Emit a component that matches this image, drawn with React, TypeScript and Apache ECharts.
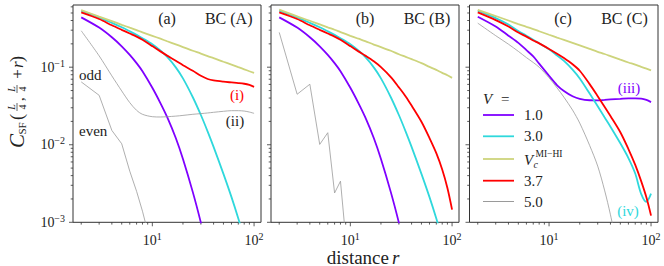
import React, { useEffect, useRef } from "react";
import * as echarts from "echarts";

// distance r sampled along the curves
const R = [2, 3, 4, 5, 6, 7, 8, 10, 12, 14, 17, 20, 25, 30, 35, 40, 50, 60, 70, 80, 90, 100];
const R_INT = [2, 3, 4, 5, 6, 7, 8, 9];

// Panel (a) BC (A)
const a_V10 = [0.439, 0.324, 0.243, 0.186, 0.144, 0.1127, 0.0887, 0.0543, 0.0345, 0.0227, 0.01222, 0.00656, 0.00245, 0.00099, 0.00042];
const a_V30 = [0.536, 0.438, 0.373, 0.327, 0.29, 0.261, 0.236, 0.197, 0.164, 0.1355, 0.0995, 0.0718, 0.041, 0.0242, 0.0148, 0.0094, 0.00421, 0.00211, 0.00112, 0.00062];
const a_Vc = [0.546, 0.45, 0.393, 0.352, 0.323, 0.301, 0.282, 0.254, 0.233, 0.216, 0.197, 0.182, 0.163, 0.15, 0.139, 0.131, 0.1175, 0.108, 0.1002, 0.094, 0.0887, 0.0843];
const a_V37 = [0.509, 0.418, 0.347, 0.303, 0.272, 0.248, 0.226, 0.187, 0.16, 0.141, 0.121, 0.106, 0.09, 0.0775, 0.0705, 0.0675, 0.065, 0.0636, 0.0625, 0.0612, 0.059, 0.0558];
const a_V50odd = [0.295, 0.14, 0.0773, 0.0494, 0.0349, 0.0278, 0.0247, 0.023, 0.0228, 0.023, 0.0234, 0.0239, 0.0247, 0.0252, 0.0257, 0.0262, 0.027, 0.0275, 0.0275, 0.0272, 0.0264, 0.0254];
const a_V50even = [0.0646, 0.0434, 0.0153, 0.0103, 0.00456, 0.00251, 0.00139, 0.00076];

// Panel (b) BC (B)
const b_V10 = [0.439, 0.324, 0.243, 0.186, 0.144, 0.1127, 0.0887, 0.0543, 0.0345, 0.0227, 0.01222, 0.00656, 0.00245, 0.00099, 0.00042];
const b_V30 = [0.536, 0.438, 0.373, 0.327, 0.29, 0.261, 0.236, 0.197, 0.164, 0.1355, 0.0995, 0.0718, 0.041, 0.0242, 0.0148, 0.0094, 0.00421, 0.00211, 0.00112, 0.00062];
const b_Vc = [0.552, 0.452, 0.397, 0.356, 0.326, 0.304, 0.284, 0.254, 0.233, 0.217, 0.196, 0.182, 0.163, 0.147, 0.136, 0.127, 0.1127, 0.101, 0.0924, 0.0845, 0.0788, 0.0728];
const b_V37 = [0.509, 0.418, 0.347, 0.303, 0.272, 0.248, 0.226, 0.187, 0.16, 0.141, 0.119, 0.1, 0.0745, 0.055, 0.042, 0.032, 0.0198, 0.0122, 0.0078, 0.0048, 0.00277, 0.00146];
const b_V50 = [0.281, 0.0448, 0.0603, 0.0101, 0.0143, 0.00239, 0.00339, 0.00063];

// Panel (c) BC (C)
const c_V10 = [0.448, 0.335, 0.255, 0.206, 0.166, 0.138, 0.111, 0.0774, 0.0585, 0.0494, 0.0422, 0.039, 0.0375, 0.0374, 0.0379, 0.0384, 0.0391, 0.0397, 0.0397, 0.0393, 0.0378, 0.0355];
const c_V30 = [0.536, 0.43, 0.355, 0.292, 0.255, 0.226, 0.203, 0.17, 0.1416, 0.1205, 0.0931, 0.0716, 0.0458, 0.0313, 0.0226, 0.0171, 0.01045, 0.00674, 0.00425, 0.00233, 0.00184, 0.00234];
const c_Vc = [0.55, 0.457, 0.4, 0.36, 0.332, 0.31, 0.291, 0.262, 0.241, 0.225, 0.206, 0.191, 0.172, 0.158, 0.148, 0.139, 0.125, 0.115, 0.108, 0.101, 0.0957, 0.0912];
const c_V37 = [0.509, 0.405, 0.335, 0.28, 0.248, 0.221, 0.203, 0.172, 0.149, 0.131, 0.109, 0.09, 0.0605, 0.0423, 0.031, 0.0235, 0.0145, 0.0088, 0.0055, 0.0034, 0.0021, 0.00122];
const c_V50 = [0.37, 0.255, 0.198, 0.16, 0.133, 0.115, 0.1, 0.073, 0.054, 0.041, 0.028, 0.019, 0.0098, 0.0053, 0.0026, 0.00125, 0.0003];

// ticks
const X_MAJOR = [10, 100];
const X_MINOR = [2, 3, 4, 5, 6, 7, 8, 9, 20, 30, 40, 50, 60, 70, 80, 90];
const Y_MAJOR = [0.001, 0.01, 0.1];
const Y_MINOR = [0.002, 0.003, 0.004, 0.005, 0.006, 0.007, 0.008, 0.009, 0.02, 0.03, 0.04, 0.05, 0.06, 0.07, 0.08, 0.09, 0.2, 0.3, 0.4, 0.5, 0.6];

const LEGEND_LABELS = ["1.0", "3.0", "Vc", "3.7", "5.0"];

const X_MIN = 1.66;
const X_MAX = 117;
const Y_MIN = 0.001;
const Y_MAX = 0.634;

const C_PURPLE = "#7f00ff";
const C_CYAN = "#2fd8dc";
const C_YEL = "#cdd47c";
const C_RED = "#ff0000";
const C_GRAY = "#9a9a9a";
const C_TXT = "#222";
const FONT = "'Liberation Serif', 'Times New Roman', serif";

const GRIDS = [
  { left: 73, top: 5, width: 188, height: 217.3 },
  { left: 271, top: 5, width: 188, height: 217.3 },
  { left: 469.5, top: 5, width: 188.5, height: 217.3 },
];

function pairs(xs: number[], ys: number[]) {
  return ys.map((y, i) => [xs[i], y]);
}

function line(xs: number[], ys: number[], color: string, width: number, gi: number, smooth = true) {
  return {
    type: "line",
    xAxisIndex: gi,
    yAxisIndex: gi,
    data: pairs(xs, ys),
    showSymbol: false,
    symbol: "none",
    smooth: smooth ? 0.3 : false,
    clip: true,
    silent: true,
    lineStyle: { color, width },
  };
}

function tickSeries(gi: number) {
  const data = [
    ...X_MAJOR.map((v) => [v, Y_MIN, 0]),
    ...X_MINOR.map((v) => [v, Y_MIN, 1]),
    ...Y_MAJOR.map((v) => [X_MIN, v, 2]),
    ...Y_MINOR.map((v) => [X_MIN, v, 3]),
  ];
  return {
    type: "custom",
    xAxisIndex: gi,
    yAxisIndex: gi,
    silent: true,
    clip: false,
    data,
    renderItem: (params: any, api: any) => {
      const k = api.value(2);
      const p = api.coord([api.value(0), api.value(1)]);
      const len = k === 0 || k === 2 ? 4 : 2.3;
      const shape =
        k < 2
          ? { x1: p[0], y1: p[1], x2: p[0], y2: p[1] + len }
          : { x1: p[0], y1: p[1], x2: p[0] - len, y2: p[1] };
      return { type: "line", shape, style: { stroke: "#333", lineWidth: 0.8 } };
    },
  };
}

function powFmt(v: number) {
  const l = Math.log10(v);
  const e = Math.round(l);
  if (Math.abs(l - e) > 1e-6) return "";
  return `{b|10}{s|${e < 0 ? "\u2212" + -e : e}}`;
}

const labelRich = {
  b: { fontSize: 14, fontFamily: FONT, color: C_TXT, lineHeight: 18 },
  s: { fontSize: 10, fontFamily: FONT, color: C_TXT, lineHeight: 18, verticalAlign: "top" },
};

function txt(text: string, x: number, y: number, opts: any = {}) {
  const align = opts.align || "center";
  return {
    type: "text",
    x,
    y,
    silent: true,
    style: {
      text,
      fill: opts.color || C_TXT,
      fontSize: opts.size || 15,
      fontFamily: FONT,
      fontStyle: opts.italic ? "italic" : "normal",
      align,
      textAlign: align,
      verticalAlign: "middle",
      textVerticalAlign: "middle",
    },
  };
}

function seg(x1: number, y1: number, x2: number, y2: number, color: string, w: number) {
  return { type: "line", silent: true, shape: { x1, y1, x2, y2 }, style: { stroke: color, lineWidth: w } };
}

export default function App() {
  const ref = useRef<HTMLDivElement>(null);
  useEffect(() => {
    if (!ref.current) return;
    const chart = echarts.init(ref.current, undefined, { renderer: "svg" });

    const xAxis = GRIDS.map((_, i) => ({
      type: "log",
      logBase: 10,
      gridIndex: i,
      min: X_MIN,
      max: X_MAX,
      axisLine: { show: false },
      axisTick: { show: false },
      splitLine: { show: false },
      minorTick: { show: false },
      axisLabel: { margin: 9, formatter: powFmt, rich: labelRich, showMinLabel: false, showMaxLabel: false },
    }));
    const yAxis = GRIDS.map((_, i) => ({
      type: "log",
      logBase: 10,
      gridIndex: i,
      min: Y_MIN,
      max: Y_MAX,
      axisLine: { show: false },
      axisTick: { show: false },
      splitLine: { show: false },
      minorTick: { show: false },
      axisLabel: { show: i === 0, margin: 8, formatter: powFmt, rich: labelRich, showMaxLabel: false },
    }));

    const series: any[] = [
      line(R, a_V10, C_PURPLE, 1.8, 0),
      line(R, a_V30, C_CYAN, 1.8, 0),
      line(R, a_Vc, C_YEL, 1.8, 0),
      line(R, a_V37, C_RED, 1.8, 0),
      line(R, a_V50odd, C_GRAY, 0.8, 0),
      line(R_INT, a_V50even, C_GRAY, 0.8, 0, false),
      line(R, b_V10, C_PURPLE, 1.8, 1),
      line(R, b_V30, C_CYAN, 1.8, 1),
      line(R, b_Vc, C_YEL, 1.8, 1),
      line(R, b_V37, C_RED, 1.8, 1),
      line(R_INT, b_V50, C_GRAY, 0.8, 1, false),
      line(R, c_V10, C_PURPLE, 1.8, 2),
      line(R, c_V30, C_CYAN, 1.8, 2),
      line(R, c_Vc, C_YEL, 1.8, 2),
      line(R, c_V37, C_RED, 1.8, 2),
      line(R, c_V50, C_GRAY, 0.8, 2),
      tickSeries(0),
      tickSeries(1),
      tickSeries(2),
    ];

    // legend (drawn inside panel c)
    const legendColors = [C_PURPLE, C_CYAN, C_YEL, C_RED, C_GRAY];
    const legendY = [115, 136.3, 159, 180.7, 201.5];
    const legendEls: any[] = [txt("V", 483, 99, { align: "left", italic: true }), txt("=", 501, 99, { align: "left" })];
    LEGEND_LABELS.forEach((lab, i) => {
      legendEls.push(seg(483, legendY[i], 514, legendY[i], legendColors[i], i === 4 ? 1 : 1.8));
      if (lab === "Vc") {
        legendEls.push(txt("V", 524, legendY[i] + 1, { align: "left", italic: true }));
        legendEls.push(txt("c", 533.5, legendY[i] + 5, { align: "left", size: 10, italic: true }));
        legendEls.push(txt("MI\u2212HI", 535.5, legendY[i] - 5, { align: "left", size: 9.5 }));
      } else {
        legendEls.push(txt(lab, 524, legendY[i], { align: "left" }));
      }
    });

    // y-axis title C_SF(L/4, L/4 + r), rotated
    const fracs = (cx: number) => [
      txt("L", cx, -5.5, { size: 10, italic: true }),
      seg(cx - 4, 0, cx + 4, 0, C_TXT, 0.7),
      txt("4", cx, 5.5, { size: 10 }),
    ];
    const ylabel = {
      type: "group",
      x: 17,
      y: 150,
      rotation: Math.PI / 2,
      silent: true,
      children: [
        txt("C", 2, 0, { align: "left", size: 21, italic: true }),
        txt("SF", 15.5, 5, { align: "left", size: 11 }),
        txt("(", 30, 0, { align: "left", size: 18 }),
        ...fracs(43),
        txt(",", 49, 2, { align: "left", size: 15 }),
        ...fracs(61),
        txt("+", 76, 0, { size: 17 }),
        txt("r", 82, 0, { align: "left", size: 17, italic: true }),
        txt(")", 88, 0, { align: "left", size: 18 }),
      ],
    };

    const graphic = [
      txt("(a)", 167, 18, { size: 16 }),
      txt("BC (A)", 228.7, 18, { size: 16 }),
      txt("(b)", 365, 18, { size: 16 }),
      txt("BC (B)", 427, 18, { size: 16 }),
      txt("(c)", 563, 18, { size: 16 }),
      txt("BC (C)", 624.5, 18, { size: 16 }),
      txt("odd", 79, 75, { align: "left" }),
      txt("even", 79, 131, { align: "left" }),
      txt("(i)", 237, 95, { color: C_RED }),
      txt("(ii)", 235, 121),
      txt("(iii)", 629, 88, { color: C_PURPLE }),
      txt("(iv)", 628, 211, { color: C_CYAN }),
      txt("distance", 389, 257, { align: "right", size: 19 }),
      txt("r", 392, 257, { align: "left", size: 19, italic: true }),
      ylabel,
      ...legendEls,
    ];

    chart.setOption({
      animation: false,
      grid: GRIDS.map((g) => ({ ...g, show: true, borderColor: "#333", borderWidth: 1, backgroundColor: "transparent" })),
      xAxis,
      yAxis,
      series,
      graphic,
    });
    return () => chart.dispose();
  }, []);
  return <div ref={ref} style={{ position: "fixed", left: 0, top: 0, width: 664, height: 266, background: "#fff" }} />;
}
